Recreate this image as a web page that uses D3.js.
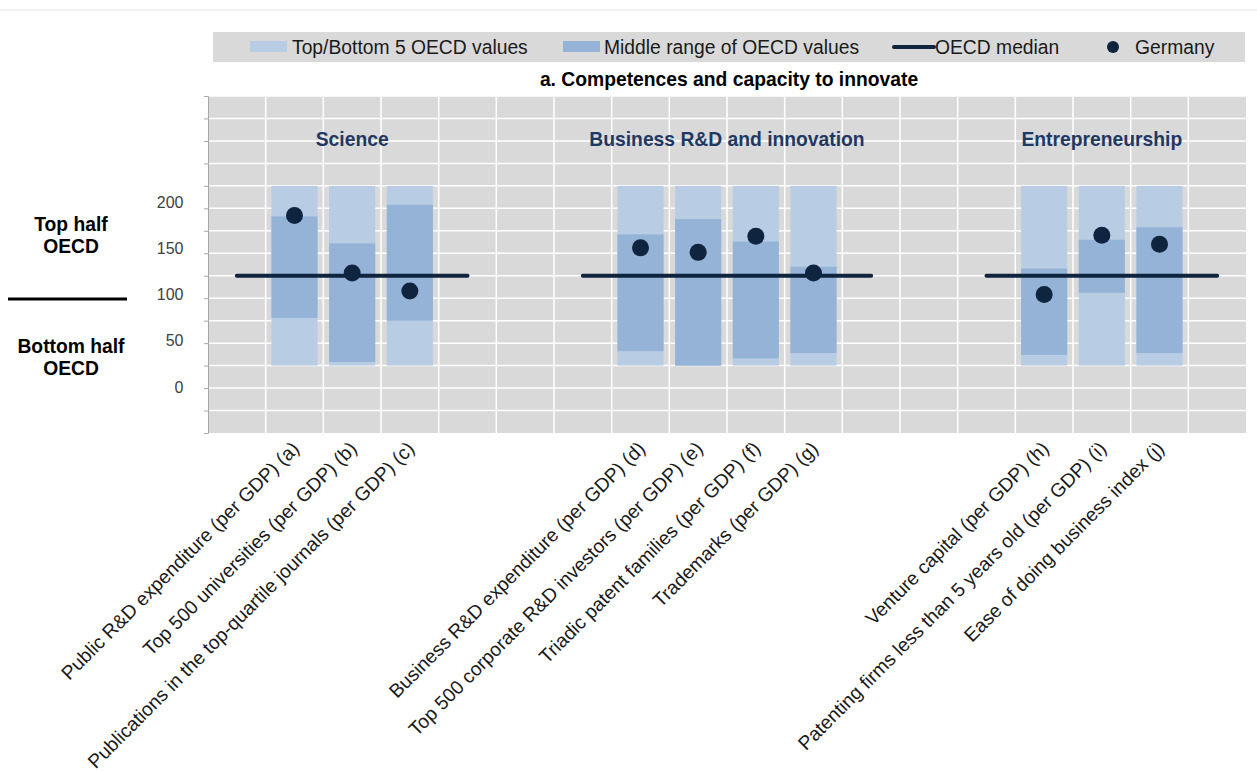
<!DOCTYPE html>
<html>
<head>
<meta charset="utf-8">
<script src="https://cdn.jsdelivr.net/npm/d3@7"></script>
<style>
  body { margin: 0; background: #fff; }
  text { font-family: "Liberation Sans", Arial, sans-serif; }
</style>
</head>
<body>
<div id="chart-area"></div>
<script>
// indicator data (OECD normalised scale, median = 125)
let indicators = ["a", "b", "c", "d", "e", "f", "g", "h", "i", "j"]
let indicatorLabels = [
    "Public R&D expenditure (per GDP) (a)",
    "Top 500 universities (per GDP) (b)",
    "Publications in the top-quartile journals (per GDP) (c)",
    "Business R&D expenditure (per GDP) (d)",
    "Top 500 corporate R&D investors (per GDP) (e)",
    "Triadic patent families (per GDP) (f)",
    "Trademarks (per GDP) (g)",
    "Venture capital (per GDP) (h)",
    "Patenting firms less than 5 years old (per GDP) (i)",
    "Ease of doing business index (j)"
]
let outerLow  = [25, 25, 25, 25, 25, 25, 25, 25, 25, 25]
let outerHigh = [225, 225, 225, 225, 225, 225, 225, 225, 225, 225]
let middleLow  = [78, 29, 75, 41, 25, 33, 39, 37, 106, 39]
let middleHigh = [191, 161, 204, 171, 188, 163, 135, 133, 165, 179]
let germany    = [192, 128, 108, 156, 151, 169, 128, 104, 170, 160]
let oecdMedian = 125

// x slots incl. the empty spacer slots between the groups
let slots = ["s0", "a", "b", "c", "s1", "s2", "s3", "d", "e", "f", "g", "s4", "s5", "s6", "h", "i", "j", "s7"]
let groupNames = ["Science", "Business R&D and innovation", "Entrepreneurship"]
let groupMembers = [["a", "b", "c"], ["d", "e", "f", "g"], ["h", "i", "j"]]
let groupMedianSpan = [["s0", "s1"], ["s3", "s4"], ["s6", "s7"]]

let yTicks = [0, 50, 100, 150, 200]
let legendLabels = ["Top/Bottom 5 OECD values", "Middle range of OECD values", "OECD median", "Germany"]
let chartTitle = "a. Competences and capacity to innovate"

let colLight = "#b8cce4", colMid = "#95b3d7", colDark = "#0f243e"
let fs = "19.3px"

let W = 1257, H = 772
let plot = {left: 208, right: 1246, top: 96, bottom: 433}

let svg = d3.select("#chart-area")
    .append("svg")
    .attr("width", W)
    .attr("height", H)

// faint rule at the very top
svg.append("line")
    .attr("x1", 0).attr("x2", W).attr("y1", 10).attr("y2", 10)
    .attr("stroke", "#e4e4e4").attr("stroke-width", 1)

let x = d3.scaleBand()
    .domain(slots)
    .range([plot.left, plot.right])
    .padding(0)

let y = d3.scaleLinear()
    .domain([-50, 325])
    .range([plot.bottom, plot.top])

// the value labels are loose text boxes in the original, slightly wider spaced
let yLab = d3.scaleLinear()
    .domain([0, 200])
    .range([387, 202.5])

// plot background + grid
svg.append("rect")
    .attr("x", plot.left).attr("y", plot.top)
    .attr("width", plot.right - plot.left).attr("height", plot.bottom - plot.top)
    .attr("fill", "#d9d9d9")

svg.append("g")
    .selectAll("line")
    .data(d3.range(-25, 326, 25))
    .enter()
    .append("line")
    .attr("x1", plot.left).attr("x2", plot.right)
    .attr("y1", d => y(d)).attr("y2", d => y(d))
    .attr("stroke", "#fff").attr("stroke-width", 1.5)

svg.append("g")
    .selectAll("line")
    .data(slots.slice(1))
    .enter()
    .append("line")
    .attr("x1", d => x(d)).attr("x2", d => x(d))
    .attr("y1", plot.top).attr("y2", plot.bottom)
    .attr("stroke", "#fff").attr("stroke-width", 1.5)

// left axis (no labels, Excel style ticks)
let yAxis = svg.append("g")
    .attr("transform", "translate(" + plot.left + ",0)")
    .call(d3.axisLeft(y).tickValues(d3.range(-50, 326, 25)).tickSize(4).tickFormat(""))
yAxis.select(".domain").attr("stroke", "#a6a6a6")
yAxis.selectAll(".tick line").attr("stroke", "#a6a6a6")

// tick labels
svg.append("g")
    .selectAll("text")
    .data(yTicks)
    .enter()
    .append("text")
    .attr("x", 183.5)
    .attr("y", d => yLab(d))
    .attr("dy", "0.35em")
    .attr("text-anchor", "end")
    .style("font-size", "16px")
    .style("fill", "#404040")
    .text(d => d)

// bars
let rows = indicators.map((k, i) => ({
    key: k, label: indicatorLabels[i],
    oLow: outerLow[i], oHigh: outerHigh[i],
    mLow: middleLow[i], mHigh: middleHigh[i],
    de: germany[i]
}))
let barW = x.bandwidth() * 0.8
let barOff = x.bandwidth() * 0.1

svg.append("g")
    .selectAll("rect")
    .data(rows)
    .enter()
    .append("rect")
    .attr("x", d => x(d.key) + barOff)
    .attr("width", barW)
    .attr("y", d => y(d.oHigh))
    .attr("height", d => y(d.oLow) - y(d.oHigh))
    .attr("fill", colLight)

svg.append("g")
    .selectAll("rect")
    .data(rows)
    .enter()
    .append("rect")
    .attr("x", d => x(d.key) + barOff)
    .attr("width", barW)
    .attr("y", d => y(d.mHigh))
    .attr("height", d => y(d.mLow) - y(d.mHigh))
    .attr("fill", colMid)

// median lines per group
svg.append("g")
    .selectAll("line")
    .data(groupMedianSpan)
    .enter()
    .append("line")
    .attr("x1", d => x(d[0]) + x.bandwidth() / 2)
    .attr("x2", d => x(d[1]) + x.bandwidth() / 2)
    .attr("y1", y(oecdMedian)).attr("y2", y(oecdMedian))
    .attr("stroke", colDark).attr("stroke-width", 4)
    .attr("stroke-linecap", "round")

// Germany dots
svg.append("g")
    .selectAll("circle")
    .data(rows)
    .enter()
    .append("circle")
    .attr("cx", d => x(d.key) + x.bandwidth() / 2)
    .attr("cy", d => y(d.de))
    .attr("r", 8.5)
    .attr("fill", colDark)

// group titles
svg.append("g")
    .selectAll("text")
    .data(groupNames)
    .enter()
    .append("text")
    .attr("x", (d, i) => {
        let m = groupMembers[i]
        return (x(m[0]) + x(m[m.length - 1]) + x.bandwidth()) / 2
    })
    .attr("y", y(277))
    .attr("dy", "0.35em")
    .attr("text-anchor", "middle")
    .style("font-size", fs)
    .style("font-weight", "bold")
    .style("fill", "#1f3864")
    .text(d => d)

// rotated category labels
svg.append("g")
    .selectAll("text")
    .data(rows)
    .enter()
    .append("text")
    .attr("transform", d => "translate(" + (x(d.key) + x.bandwidth() / 2 + 1) + "," + (plot.bottom + 12) + ") rotate(-45)")
    .attr("text-anchor", "end")
    .attr("dy", "0.35em")
    .style("font-size", fs)
    .style("fill", "#1a1a1a")
    .text(d => d.label)

// left side annotation
let side = svg.append("g")
side.append("text").attr("x", 71).attr("y", 231).attr("text-anchor", "middle")
    .style("font-size", fs).style("font-weight", "bold").text("Top half")
side.append("text").attr("x", 71).attr("y", 253).attr("text-anchor", "middle")
    .style("font-size", fs).style("font-weight", "bold").text("OECD")
side.append("line").attr("x1", 8).attr("x2", 127).attr("y1", 299).attr("y2", 299)
    .attr("stroke", "#000").attr("stroke-width", 3)
side.append("text").attr("x", 71).attr("y", 353).attr("text-anchor", "middle")
    .style("font-size", fs).style("font-weight", "bold").text("Bottom half")
side.append("text").attr("x", 71).attr("y", 375).attr("text-anchor", "middle")
    .style("font-size", fs).style("font-weight", "bold").text("OECD")

// legend
let leg = svg.append("g")
leg.append("rect").attr("x", 213).attr("y", 32).attr("width", 1032).attr("height", 30).attr("fill", "#d9d9d9")
leg.append("rect").attr("x", 250).attr("y", 41).attr("width", 37).attr("height", 11).attr("fill", colLight)
leg.append("rect").attr("x", 563).attr("y", 41).attr("width", 37).attr("height", 11).attr("fill", colMid)
leg.append("line").attr("x1", 894).attr("x2", 934).attr("y1", 47).attr("y2", 47)
    .attr("stroke", colDark).attr("stroke-width", 4).attr("stroke-linecap", "round")
leg.append("circle").attr("cx", 1113).attr("cy", 47).attr("r", 6).attr("fill", colDark)
let legX = [292, 604, 935, 1135]
leg.selectAll("text.lg")
    .data(legendLabels)
    .enter()
    .append("text")
    .attr("class", "lg")
    .attr("x", (d, i) => legX[i])
    .attr("y", 47)
    .attr("dy", "0.35em")
    .style("font-size", fs)
    .style("fill", "#1a1a1a")
    .text(d => d)

// chart title
svg.append("text")
    .attr("x", 729).attr("y", 79).attr("dy", "0.35em")
    .attr("text-anchor", "middle")
    .style("font-size", fs)
    .style("font-weight", "bold")
    .text(chartTitle)
</script>
</body>
</html>
